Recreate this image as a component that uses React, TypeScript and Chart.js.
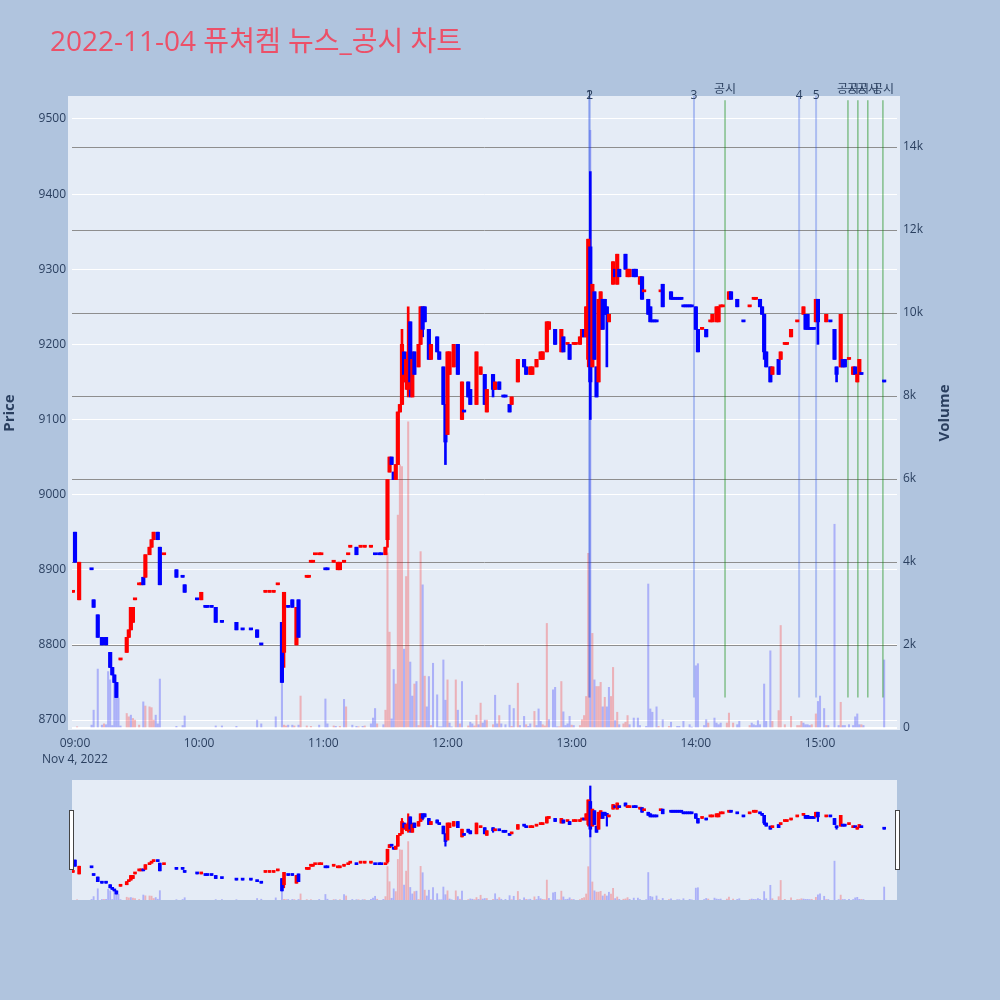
import React, { useEffect, useRef } from "react";
import { Chart, registerables } from "chart.js";

Chart.register(...registerables);

const TITLE = "2022-11-04 퓨쳐켐 뉴스_공시 차트";
const DATE_LABEL = "Nov 4, 2022";
const PRICE_TITLE = "Price";
const VOLUME_TITLE = "Volume";

// minutes after 09:00
const candleMinute = [
  -1, 0, 2, 8, 9, 11, 13, 15, 17, 18,
  19, 20, 22, 25, 26, 27, 28, 29, 31, 32,
  33, 34, 36, 37, 38, 40, 41, 43, 49, 52,
  53, 59, 61, 63, 64, 66, 68, 71, 78, 81,
  85, 88, 90, 92, 94, 96, 98, 100, 101, 103,
  105, 107, 108, 112, 113, 114, 115, 116, 118, 119,
  121, 122, 125, 127, 128, 130, 132, 133, 136, 138,
  140, 143, 145, 147, 148, 150, 151, 152, 153, 154,
  155, 156, 157, 158, 159, 160, 161, 162, 163, 164,
  166, 167, 168, 169, 171, 172, 175, 176, 178, 179,
  180, 181, 183, 185, 187, 188, 190, 191, 194, 196,
  198, 199, 202, 203, 205, 207, 208, 210, 211, 214,
  217, 218, 220, 221, 223, 225, 226, 228, 229, 232,
  235, 236, 238, 239, 241, 242, 244, 245, 246, 247,
  248, 249, 250, 251, 252, 253, 254, 255, 256, 257,
  258, 260, 261, 262, 263, 266, 267, 268, 270, 271,
  273, 274, 275, 277, 278, 279, 280, 281, 283, 284,
  288, 289, 290, 291, 292, 293, 294, 295, 296, 297,
  298, 300, 301, 303, 305, 307, 308, 310, 311, 312,
  313, 316, 317, 320, 323, 326, 328, 329, 331, 332,
  333, 334, 336, 337, 340, 341, 343, 344, 346, 349,
  352, 353, 354, 355, 356, 357, 358, 359, 363, 365,
  367, 368, 370, 371, 372, 374, 376, 377, 378, 379,
  380, 391,
];

const candleOpen = [
  8870, 8950, 8860, 8900, 8860, 8840, 8810, 8810, 8790, 8770,
  8760, 8750, 8780, 8790, 8810, 8820, 8830, 8860, 8880, 8880,
  8890, 8890, 8920, 8930, 8940, 8950, 8930, 8920, 8900, 8890,
  8880, 8860, 8860, 8850, 8850, 8850, 8850, 8830, 8830, 8820,
  8820, 8820, 8800, 8870, 8870, 8870, 8880, 8830, 8790, 8850,
  8860, 8800, 8860, 8890, 8890, 8910, 8910, 8920, 8920, 8920,
  8900, 8900, 8910, 8900, 8900, 8910, 8920, 8930, 8930, 8930,
  8930, 8930, 8920, 8920, 8920, 8920, 8940, 9030, 9050, 9030,
  9020, 9040, 9110, 9120, 9190, 9150, 9140, 9230, 9130, 9190,
  9170, 9200, 9250, 9250, 9220, 9180, 9210, 9190, 9170, 9120,
  9080, 9160, 9170, 9200, 9100, 9110, 9150, 9140, 9120, 9160,
  9160, 9110, 9160, 9140, 9150, 9130, 9130, 9120, 9120, 9150,
  9180, 9170, 9160, 9160, 9170, 9180, 9180, 9190, 9220, 9220,
  9190, 9210, 9200, 9200, 9200, 9200, 9200, 9210, 9220, 9210,
  9180, 9330, 9170, 9270, 9170, 9150, 9220, 9260, 9260, 9250,
  9230, 9280, 9300, 9280, 9300, 9320, 9290, 9290, 9300, 9300,
  9280, 9290, 9270, 9260, 9250, 9230, 9230, 9230, 9270, 9280,
  9270, 9260, 9260, 9260, 9260, 9260, 9250, 9250, 9250, 9250,
  9250, 9250, 9220, 9220, 9220, 9230, 9230, 9230, 9230, 9250,
  9250, 9260, 9270, 9260, 9230, 9250, 9260, 9260, 9260, 9250,
  9240, 9190, 9170, 9160, 9180, 9180, 9200, 9200, 9210, 9230,
  9240, 9240, 9240, 9220, 9220, 9220, 9230, 9260, 9230, 9230,
  9220, 9170, 9170, 9180, 9180, 9180, 9160, 9170, 9150, 9160,
  9160, 9150,
];

const candleHigh = [
  8870, 8950, 8910, 8900, 8860, 8840, 8810, 8810, 8790, 8770,
  8760, 8750, 8780, 8810, 8820, 8850, 8850, 8860, 8880, 8880,
  8890, 8920, 8930, 8940, 8950, 8950, 8930, 8920, 8900, 8890,
  8880, 8860, 8870, 8850, 8850, 8850, 8850, 8830, 8830, 8820,
  8820, 8820, 8800, 8870, 8870, 8870, 8880, 8830, 8870, 8850,
  8860, 8850, 8860, 8890, 8890, 8910, 8910, 8920, 8920, 8920,
  8900, 8900, 8910, 8910, 8910, 8910, 8920, 8930, 8930, 8930,
  8930, 8930, 8920, 8920, 8920, 8930, 9020, 9050, 9050, 9030,
  9040, 9110, 9120, 9220, 9190, 9180, 9250, 9230, 9190, 9190,
  9200, 9250, 9250, 9250, 9220, 9200, 9210, 9190, 9170, 9120,
  9190, 9190, 9200, 9200, 9150, 9110, 9150, 9140, 9190, 9170,
  9160, 9140, 9160, 9150, 9150, 9130, 9130, 9120, 9130, 9180,
  9180, 9170, 9170, 9170, 9180, 9190, 9190, 9230, 9230, 9220,
  9220, 9210, 9200, 9200, 9200, 9200, 9210, 9220, 9220, 9250,
  9340, 9430, 9280, 9270, 9170, 9260, 9270, 9260, 9260, 9250,
  9240, 9310, 9300, 9320, 9300, 9320, 9300, 9300, 9300, 9300,
  9290, 9290, 9270, 9260, 9250, 9230, 9230, 9230, 9270, 9280,
  9270, 9260, 9260, 9260, 9260, 9260, 9250, 9250, 9250, 9250,
  9250, 9250, 9220, 9220, 9220, 9230, 9240, 9250, 9250, 9250,
  9250, 9270, 9270, 9260, 9230, 9250, 9260, 9260, 9260, 9250,
  9240, 9190, 9170, 9170, 9180, 9190, 9200, 9200, 9220, 9230,
  9250, 9240, 9240, 9220, 9220, 9220, 9260, 9260, 9240, 9230,
  9220, 9170, 9240, 9180, 9180, 9180, 9170, 9170, 9160, 9180,
  9160, 9150,
];

const candleLow = [
  8870, 8910, 8860, 8900, 8850, 8810, 8800, 8800, 8770, 8760,
  8750, 8730, 8780, 8790, 8810, 8820, 8830, 8860, 8880, 8880,
  8880, 8890, 8920, 8930, 8940, 8940, 8880, 8920, 8890, 8890,
  8870, 8860, 8860, 8850, 8850, 8850, 8830, 8830, 8820, 8820,
  8820, 8810, 8800, 8870, 8870, 8870, 8880, 8750, 8770, 8850,
  8850, 8800, 8810, 8890, 8890, 8910, 8910, 8920, 8920, 8920,
  8900, 8900, 8910, 8900, 8900, 8910, 8920, 8930, 8920, 8930,
  8930, 8930, 8920, 8920, 8920, 8920, 8930, 9030, 9040, 9020,
  9020, 9040, 9110, 9120, 9150, 9140, 9130, 9130, 9130, 9160,
  9170, 9200, 9210, 9230, 9180, 9180, 9190, 9180, 9120, 9040,
  9080, 9160, 9170, 9160, 9100, 9110, 9130, 9120, 9120, 9160,
  9120, 9110, 9130, 9140, 9140, 9130, 9130, 9110, 9120, 9150,
  9170, 9160, 9160, 9160, 9170, 9180, 9180, 9190, 9220, 9200,
  9190, 9190, 9200, 9180, 9200, 9200, 9200, 9210, 9210, 9210,
  9170, 9100, 9170, 9180, 9130, 9150, 9220, 9220, 9240, 9170,
  9230, 9280, 9290, 9280, 9290, 9300, 9290, 9290, 9290, 9290,
  9280, 9260, 9270, 9240, 9230, 9230, 9230, 9230, 9270, 9250,
  9260, 9260, 9260, 9260, 9260, 9260, 9250, 9250, 9250, 9250,
  9250, 9220, 9190, 9220, 9210, 9230, 9230, 9230, 9230, 9250,
  9250, 9260, 9260, 9250, 9230, 9250, 9260, 9260, 9250, 9240,
  9180, 9170, 9150, 9160, 9160, 9180, 9200, 9200, 9210, 9230,
  9240, 9220, 9220, 9220, 9220, 9220, 9230, 9200, 9230, 9230,
  9180, 9150, 9170, 9170, 9170, 9180, 9160, 9160, 9150, 9160,
  9160, 9150,
];

const candleClose = [
  8870, 8910, 8910, 8900, 8850, 8810, 8800, 8800, 8770, 8760,
  8750, 8730, 8780, 8810, 8820, 8850, 8850, 8860, 8880, 8880,
  8880, 8920, 8930, 8940, 8950, 8940, 8880, 8920, 8890, 8890,
  8870, 8860, 8870, 8850, 8850, 8850, 8830, 8830, 8820, 8820,
  8820, 8810, 8800, 8870, 8870, 8870, 8880, 8750, 8870, 8850,
  8850, 8850, 8810, 8890, 8890, 8910, 8910, 8920, 8920, 8920,
  8900, 8900, 8910, 8910, 8910, 8910, 8920, 8930, 8920, 8930,
  8930, 8930, 8920, 8920, 8920, 8930, 9020, 9050, 9040, 9020,
  9040, 9110, 9120, 9200, 9160, 9180, 9190, 9150, 9180, 9160,
  9200, 9250, 9220, 9230, 9180, 9200, 9190, 9180, 9120, 9070,
  9190, 9190, 9200, 9160, 9150, 9110, 9130, 9120, 9190, 9170,
  9120, 9140, 9140, 9150, 9140, 9130, 9130, 9110, 9130, 9180,
  9170, 9160, 9170, 9170, 9180, 9190, 9190, 9230, 9230, 9200,
  9220, 9190, 9200, 9180, 9200, 9200, 9210, 9220, 9210, 9250,
  9340, 9150, 9280, 9180, 9130, 9260, 9270, 9220, 9240, 9240,
  9240, 9310, 9290, 9320, 9290, 9300, 9300, 9300, 9290, 9290,
  9290, 9260, 9270, 9240, 9230, 9230, 9230, 9230, 9270, 9250,
  9260, 9260, 9260, 9260, 9260, 9260, 9250, 9250, 9250, 9250,
  9250, 9220, 9190, 9220, 9210, 9230, 9240, 9250, 9250, 9250,
  9250, 9270, 9260, 9250, 9230, 9250, 9260, 9260, 9250, 9240,
  9190, 9170, 9150, 9170, 9160, 9190, 9200, 9200, 9220, 9230,
  9250, 9220, 9220, 9220, 9220, 9220, 9260, 9230, 9240, 9230,
  9180, 9160, 9240, 9170, 9170, 9180, 9170, 9160, 9160, 9180,
  9160, 9150,
];

const volumeMinute = [
  1, 8, 9, 11, 13, 14, 15, 16, 17, 18,
  19, 20, 21, 22, 25, 26, 27, 28, 29, 31,
  33, 34, 36, 37, 38, 39, 40, 41, 49, 52,
  53, 68, 71, 78, 88, 90, 97, 100, 101, 102,
  103, 105, 106, 108, 109, 112, 114, 118, 121, 122,
  125, 126, 128, 130, 131, 134, 136, 137, 139, 140,
  143, 144, 145, 146, 149, 150, 151, 152, 153, 154,
  155, 156, 157, 158, 159, 160, 161, 162, 163, 164,
  165, 166, 167, 168, 169, 170, 171, 172, 173, 175,
  176, 177, 178, 179, 180, 181, 182, 184, 185, 186,
  187, 190, 191, 192, 193, 194, 195, 196, 197, 198,
  199, 202, 203, 204, 205, 206, 208, 210, 211, 212,
  214, 215, 217, 218, 219, 220, 222, 223, 224, 225,
  226, 227, 228, 229, 231, 232, 233, 234, 235, 236,
  237, 238, 239, 240, 241, 244, 245, 246, 247, 248,
  249, 250, 251, 252, 253, 254, 255, 256, 257, 258,
  259, 260, 261, 262, 263, 265, 266, 267, 268, 270,
  272, 273, 276, 277, 278, 279, 281, 282, 284, 287,
  288, 291, 292, 294, 297, 298, 300, 301, 304, 305,
  306, 309, 310, 311, 312, 315, 316, 318, 320, 321,
  326, 327, 328, 329, 330, 331, 333, 334, 336, 337,
  340, 341, 343, 346, 349, 350, 351, 352, 353, 354,
  355, 356, 358, 359, 360, 362, 363, 364, 367, 369,
  370, 371, 372, 374, 376, 377, 378, 379, 380, 381,
  391,
];

const volumeValue = [
  30, 70, 430, 1420, 70, 100, 80, 1360, 1160, 60,
  1080, 960, 720, 50, 350, 270, 310, 230, 190, 70,
  630, 530, 510, 490, 190, 310, 100, 1180, 40, 60,
  290, 50, 50, 40, 190, 100, 270, 1080, 70, 50,
  70, 70, 50, 70, 770, 50, 40, 70, 700, 100,
  50, 40, 40, 690, 510, 70, 40, 30, 40, 50,
  100, 240, 470, 100, 80, 430, 4220, 2310, 220, 1410,
  1060, 5130, 6340, 6300, 1900, 3650, 7380, 1590, 770, 1060,
  1120, 60, 4250, 3450, 1250, 510, 1240, 60, 1560, 800,
  30, 30, 1640, 670, 1160, 120, 30, 1160, 430, 100,
  1120, 50, 140, 100, 50, 310, 80, 600, 120, 190,
  190, 80, 790, 100, 300, 100, 80, 550, 40, 470,
  1080, 60, 280, 80, 40, 100, 400, 60, 460, 160,
  80, 50, 2520, 200, 920, 980, 30, 30, 1120, 390,
  60, 100, 280, 70, 60, 60, 200, 300, 760, 4210,
  14400, 2280, 1160, 1000, 1000, 1100, 510, 740, 510, 980,
  760, 1460, 180, 380, 80, 100, 140, 300, 80, 240,
  240, 60, 40, 3470, 460, 380, 510, 40, 200, 40,
  140, 40, 40, 160, 80, 20, 1500, 1550, 60, 200,
  120, 240, 120, 80, 120, 120, 360, 120, 80, 160,
  60, 120, 80, 60, 180, 80, 1060, 160, 1860, 160,
  420, 2470, 80, 280, 60, 60, 160, 120, 80, 80,
  60, 80, 340, 640, 770, 470, 60, 60, 4910, 60,
  620, 60, 60, 80, 60, 270, 340, 80, 80, 60,
  1640,
];

// 1 = rising minute (red), 0 = falling minute (blue)
const volumeUp = [
  1, 0, 0, 0, 0, 1, 0, 0, 0, 0,
  0, 0, 0, 0, 1, 1, 0, 1, 1, 1,
  0, 1, 1, 1, 1, 0, 0, 0, 0, 0,
  0, 0, 0, 0, 0, 0, 0, 0, 1, 1,
  0, 0, 1, 0, 1, 1, 1, 0, 0, 0,
  1, 0, 1, 0, 1, 0, 0, 1, 0, 1,
  0, 0, 0, 1, 0, 1, 1, 1, 0, 0,
  1, 1, 1, 1, 0, 1, 1, 0, 0, 1,
  0, 1, 1, 0, 1, 0, 0, 1, 0, 0,
  0, 0, 0, 0, 1, 0, 0, 1, 0, 1,
  0, 1, 0, 0, 1, 1, 0, 1, 0, 0,
  1, 1, 0, 0, 1, 0, 0, 0, 1, 0,
  1, 0, 0, 1, 0, 0, 1, 0, 0, 0,
  1, 1, 1, 0, 0, 0, 0, 1, 1, 0,
  0, 0, 0, 1, 0, 1, 1, 1, 1, 1,
  0, 1, 0, 1, 1, 1, 0, 1, 0, 0,
  1, 1, 0, 1, 0, 1, 1, 1, 0, 0,
  0, 0, 0, 0, 0, 0, 0, 1, 0, 1,
  0, 0, 0, 0, 0, 0, 0, 0, 0, 0,
  1, 0, 0, 0, 0, 1, 1, 1, 0, 0,
  1, 0, 0, 0, 0, 0, 0, 0, 0, 1,
  1, 1, 1, 1, 1, 1, 1, 0, 0, 0,
  0, 1, 1, 0, 0, 0, 1, 0, 0, 0,
  1, 0, 0, 0, 0, 0, 0, 0, 1, 0,
  0,
];

// news markers (numbered) and disclosure markers (공시)
const newsMinute = [248.5, 248.7, 299.1, 349.9, 358.1];
const newsLabel = ["1", "2", "3", "4", "5"];
const disclosureMinute = [314.1, 373.5, 378.3, 383.1, 390.4];
const DISCLOSURE_LABEL = "공시";
const MARKER_LOW = 8730;
const MARKER_HIGH = 9525;

const timeTicks = [0, 60, 120, 180, 240, 300, 360];
const priceTicks = [8700, 8800, 8900, 9000, 9100, 9200, 9300, 9400, 9500];
const volumeTicks = [0, 2000, 4000, 6000, 8000, 10000, 12000, 14000];

const X_MIN = -1.45;
const X_MAX = 397.2;
const PRICE_MIN = 8686.7;
const PRICE_MAX = 9530.6;
const VOL_MIN = -48;
const VOL_MAX = 15229;

const UP = "#ff0000";
const DOWN = "#0000ff";
const UP_VOL = "rgba(255,0,0,0.25)";
const DOWN_VOL = "rgba(0,0,255,0.25)";
const NEWS_LINE = "rgba(40,80,230,0.3)";
const DISC_LINE = "rgba(20,140,20,0.55)";
const TEXT = "#2a3f5f";
const FONT = "'Open Sans', 'Noto Sans', 'Noto Sans CJK KR', sans-serif";

function candleDirections(): boolean[] {
  const out: boolean[] = [];
  let prevClose: number | null = null;
  let prevUp = true;
  for (let i = 0; i < candleMinute.length; i++) {
    const o = candleOpen[i];
    const c = candleClose[i];
    let up: boolean;
    if (c > o) up = true;
    else if (c < o) up = false;
    else if (prevClose === null) up = true;
    else if (c > prevClose) up = true;
    else if (c < prevClose) up = false;
    else up = prevUp;
    out.push(up);
    prevClose = c;
    prevUp = up;
  }
  return out;
}

function fmtMinute(m: number): string {
  const h = 9 + Math.floor(m / 60);
  const mm = m % 60;
  return String(h).padStart(2, "0") + ":" + String(mm).padStart(2, "0");
}

function buildDatasets(bodyW: number, wickW: number, volW: number, withMarkers: boolean): any[] {
  const dirs = candleDirections();
  const ds: any[] = [];
  ds.push({
    type: "bar",
    label: "Volume",
    xAxisID: "x",
    yAxisID: "yv",
    order: 5,
    grouped: false,
    barThickness: volW,
    data: volumeMinute.map((m, i) => ({ x: m, y: volumeValue[i] })),
    backgroundColor: volumeUp.map((u) => (u ? UP_VOL : DOWN_VOL)),
  });
  if (withMarkers) {
    newsMinute.forEach((m, i) => {
      ds.push({
        type: "line",
        label: "news " + newsLabel[i],
        xAxisID: "x",
        yAxisID: "y",
        order: 3,
        data: [
          { x: m, y: MARKER_LOW },
          { x: m, y: PRICE_MAX },
        ],
        borderColor: NEWS_LINE,
        borderWidth: 2,
        pointRadius: 0,
        fill: false,
      });
    });
    disclosureMinute.forEach((m) => {
      ds.push({
        type: "line",
        label: DISCLOSURE_LABEL,
        xAxisID: "x",
        yAxisID: "y",
        order: 3,
        data: [
          { x: m, y: MARKER_LOW },
          { x: m, y: MARKER_HIGH },
        ],
        borderColor: DISC_LINE,
        borderWidth: 1.3,
        pointRadius: 0,
        fill: false,
      });
    });
  }
  ds.push({
    type: "bar",
    label: "wick",
    xAxisID: "x",
    yAxisID: "y",
    order: 2,
    grouped: false,
    barThickness: wickW,
    minBarLength: 1,
    data: candleMinute.map((m, i) => ({ x: m, y: [candleLow[i], candleHigh[i]] })),
    backgroundColor: dirs.map((u) => (u ? UP : DOWN)),
  });
  ds.push({
    type: "bar",
    label: "body",
    xAxisID: "x",
    yAxisID: "y",
    order: 1,
    grouped: false,
    barThickness: bodyW,
    minBarLength: 2,
    data: candleMinute.map((m, i) => ({ x: m, y: [candleOpen[i], candleClose[i]] })),
    backgroundColor: dirs.map((u) => (u ? UP : DOWN)),
  });
  return ds;
}

const mainDecor = {
  id: "mainDecor",
  beforeDraw(chart: any) {
    const { ctx, chartArea, width, height } = chart;
    ctx.save();
    ctx.fillStyle = "#b0c4de";
    ctx.fillRect(0, 0, width, height);
    ctx.fillStyle = "#e5ecf6";
    ctx.fillRect(chartArea.left - 4, chartArea.top, chartArea.right - chartArea.left + 7, chartArea.bottom - chartArea.top);
    ctx.restore();
  },
  afterDraw(chart: any) {
    const { ctx, chartArea, scales } = chart;
    const xs = scales.x;
    ctx.save();
    ctx.fillStyle = "#ec5068";
    ctx.font = "28px " + FONT;
    ctx.textAlign = "left";
    ctx.textBaseline = "alphabetic";
    ctx.fillText(TITLE, 50, 51);
    ctx.fillStyle = TEXT;
    ctx.font = "bold 15px " + FONT;
    ctx.textAlign = "center";
    ctx.textBaseline = "middle";
    ctx.save();
    ctx.translate(10, 413);
    ctx.rotate(-Math.PI / 2);
    ctx.fillText(PRICE_TITLE, 0, 0);
    ctx.restore();
    ctx.save();
    ctx.translate(945, 413);
    ctx.rotate(-Math.PI / 2);
    ctx.fillText(VOLUME_TITLE, 0, 0);
    ctx.restore();
    ctx.font = "12px " + FONT;
    ctx.fillStyle = TEXT;
    newsMinute.forEach((m, i) => {
      ctx.fillText(newsLabel[i], xs.getPixelForValue(m), chartArea.top);
    });
    disclosureMinute.forEach((m) => {
      ctx.fillText(DISCLOSURE_LABEL, xs.getPixelForValue(m), chartArea.top - 6);
    });
    ctx.restore();
  },
};

const sliderDecor = {
  id: "sliderDecor",
  beforeDraw(chart: any) {
    const { ctx, chartArea } = chart;
    ctx.save();
    ctx.fillStyle = "#e5ecf6";
    ctx.fillRect(chartArea.left, chartArea.top, chartArea.right - chartArea.left, chartArea.bottom - chartArea.top);
    ctx.restore();
  },
  afterDraw(chart: any) {
    const { ctx, chartArea } = chart;
    const cy = (chartArea.top + chartArea.bottom) / 2;
    ctx.save();
    ctx.fillStyle = "#ffffff";
    ctx.strokeStyle = "#444444";
    ctx.lineWidth = 1;
    [chartArea.left - 3, chartArea.right - 2].forEach((x) => {
      ctx.fillRect(x, cy - 30, 4, 60);
      ctx.strokeRect(x + 0.5, cy - 30 + 0.5, 4, 59);
    });
    ctx.restore();
  },
};

export default function App() {
  const mainRef = useRef<HTMLCanvasElement>(null);
  const sliderRef = useRef<HTMLCanvasElement>(null);

  useEffect(() => {
    const tickFont = { family: FONT, size: 12, lineHeight: 1.35 };
    const main = new Chart(mainRef.current as HTMLCanvasElement, {
      type: "bar",
      data: { datasets: buildDatasets(3.5, 2, 1.4, true) as any },
      options: {
        responsive: false,
        animation: false,
        events: [],
        layout: { padding: { top: 96, left: 0, right: 0, bottom: 0 } },
        plugins: { legend: { display: false }, tooltip: { enabled: false }, title: { display: false } },
        scales: {
          x: {
            type: "linear",
            position: "bottom",
            min: X_MIN,
            max: X_MAX,
            offset: false,
            grid: { display: false, offset: false, drawTicks: false, tickLength: 0 },
            border: { display: false },
            afterBuildTicks: (s: any) => {
              s.ticks = timeTicks.map((v) => ({ value: v }));
            },
            afterFit: (s: any) => {
              s.height = 270;
            },
            ticks: {
              padding: 5,
              color: TEXT,
              font: tickFont,
              maxRotation: 0,
              autoSkip: false,
              callback: (v: any) => (Number(v) === 0 ? [fmtMinute(0), DATE_LABEL] : fmtMinute(Number(v))),
            },
          },
          y: {
            type: "linear",
            position: "left",
            min: PRICE_MIN,
            max: PRICE_MAX,
            afterBuildTicks: (s: any) => {
              s.ticks = priceTicks.map((v) => ({ value: v }));
            },
            afterFit: (s: any) => {
              s.width = 72;
            },
            grid: { color: "#ffffff", lineWidth: 1, drawTicks: false },
            border: { display: false },
            ticks: { padding: 6, color: TEXT, font: tickFont, callback: (v: any) => String(v) },
          },
          yv: {
            type: "linear",
            position: "right",
            min: VOL_MIN,
            max: VOL_MAX,
            afterBuildTicks: (s: any) => {
              s.ticks = volumeTicks.map((v) => ({ value: v }));
            },
            afterFit: (s: any) => {
              s.width = 103;
            },
            grid: {
              color: (c: any) => (c.tick && c.tick.value === 0 ? "#ffffff" : "#8e8e8e"),
              lineWidth: (c: any) => (c.tick && c.tick.value === 0 ? 2 : 1),
              drawTicks: false,
            },
            border: { display: false },
            ticks: {
              padding: 6,
              color: TEXT,
              font: tickFont,
              callback: (v: any) => (Number(v) === 0 ? "0" : Number(v) / 1000 + "k"),
            },
          },
        },
      } as any,
      plugins: [mainDecor],
    });

    const slider = new Chart(sliderRef.current as HTMLCanvasElement, {
      type: "bar",
      data: { datasets: buildDatasets(3, 1.5, 1.2, false) as any },
      options: {
        responsive: false,
        animation: false,
        events: [],
        layout: { padding: { top: 10, left: 12, right: 13, bottom: 10 } },
        plugins: { legend: { display: false }, tooltip: { enabled: false }, title: { display: false } },
        scales: {
          x: { type: "linear", display: false, min: X_MIN, max: X_MAX, offset: false, grid: { offset: false } },
          y: { type: "linear", display: false, min: 8691, max: 9469 },
          yv: { type: "linear", display: false, min: 0, max: 15160 },
        },
      } as any,
      plugins: [sliderDecor],
    });

    return () => {
      main.destroy();
      slider.destroy();
    };
  }, []);

  return (
    <div style={{ position: "absolute", left: 0, top: 0, width: 1000, height: 1000, background: "#b0c4de", overflow: "hidden" }}>
      <canvas
        ref={mainRef}
        width={1000}
        height={1000}
        style={{ position: "absolute", left: 0, top: 0, width: 1000, height: 1000 }}
      />
      <canvas
        ref={sliderRef}
        width={850}
        height={140}
        style={{ position: "absolute", left: 60, top: 770, width: 850, height: 140 }}
      />
    </div>
  );
}
